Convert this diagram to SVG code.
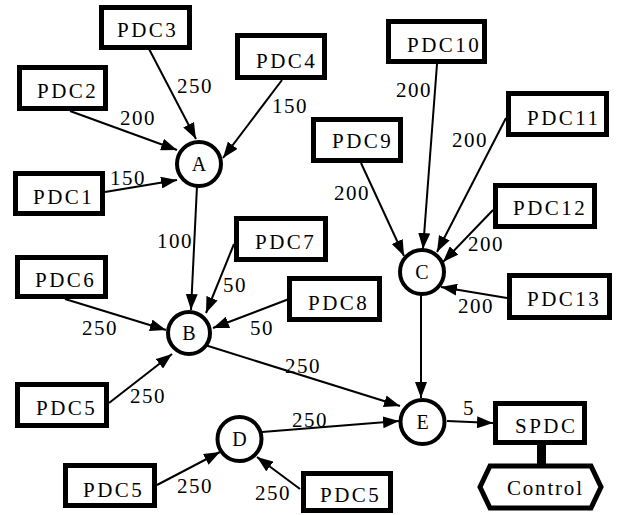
<svg xmlns="http://www.w3.org/2000/svg" width="620" height="515" viewBox="0 0 620 515" font-family="Liberation Serif, DejaVu Serif, serif">
<style>
.box{fill:#fff;stroke:#000;stroke-width:5}
.circ{fill:#fff;stroke:#000;stroke-width:4}
.t{font-size:21px;fill:#000;letter-spacing:2.5px}
.ct{font-size:20px;fill:#000;text-anchor:middle}
.n{font-size:21px;fill:#000;letter-spacing:1.5px}
.e{stroke:#000;stroke-width:2;fill:none;marker-end:url(#arr)}
</style>
<defs>
<marker id="arr" viewBox="0 0 16 12" refX="16" refY="6" markerWidth="16" markerHeight="12" markerUnits="userSpaceOnUse" orient="auto">
<path d="M0,0 L16,6 L0,12 z" fill="#000"/>
</marker>
</defs>
<rect width="620" height="515" fill="#fff"/>
<g id="connectors">
<line class="e" x1="148" y1="47" x2="196" y2="139"/>
<line class="e" x1="70" y1="111" x2="177" y2="150"/>
<line class="e" x1="282" y1="80" x2="223" y2="158"/>
<line class="e" x1="105" y1="192" x2="177" y2="180"/>
<line class="e" x1="197" y1="186" x2="191" y2="310"/>
<line class="e" x1="234" y1="244" x2="206" y2="313"/>
<line class="e" x1="289" y1="299" x2="213" y2="328"/>
<line class="e" x1="65" y1="299" x2="166" y2="330"/>
<line class="e" x1="109" y1="403" x2="172" y2="354"/>
<line class="e" x1="205" y1="345" x2="400" y2="406"/>
<line class="e" x1="262" y1="432" x2="399" y2="421"/>
<line class="e" x1="421" y1="295" x2="421" y2="398"/>
<line class="e" x1="447" y1="421" x2="493" y2="423"/>
<line class="e" x1="157" y1="485" x2="220" y2="452"/>
<line class="e" x1="300" y1="489" x2="257" y2="457"/>
<line class="e" x1="437" y1="64" x2="423" y2="249"/>
<line class="e" x1="506" y1="118" x2="437" y2="252"/>
<line class="e" x1="361" y1="163" x2="404" y2="256"/>
<line class="e" x1="493" y1="210" x2="443" y2="262"/>
<line class="e" x1="507" y1="298" x2="441" y2="287"/>
<line x1="541.5" y1="444" x2="541.5" y2="466" stroke="#000" stroke-width="9"/>
<text class="n" x="177" y="93">250</text>
<text class="n" x="120" y="125">200</text>
<text class="n" x="272" y="113">150</text>
<text class="n" x="110" y="185">150</text>
<text class="n" x="157" y="248">100</text>
<text class="n" x="223" y="292">50</text>
<text class="n" x="250" y="335">50</text>
<text class="n" x="82" y="335">250</text>
<text class="n" x="130" y="403">250</text>
<text class="n" x="285" y="373">250</text>
<text class="n" x="292" y="427">250</text>
<text class="n" x="463" y="415">5</text>
<text class="n" x="177" y="493">250</text>
<text class="n" x="255" y="500">250</text>
<text class="n" x="396" y="97">200</text>
<text class="n" x="452" y="147">200</text>
<text class="n" x="334" y="200">200</text>
<text class="n" x="468" y="251">200</text>
<text class="n" x="458" y="313">200</text>
</g>
<g id="PDC3"><rect class="box" x="101.5" y="7.5" width="88" height="40"/><text class="t" x="117" y="37">PDC3</text></g>
<g id="PDC2"><rect class="box" x="19.5" y="67.5" width="86" height="41"/><text class="t" x="37" y="98">PDC2</text></g>
<g id="PDC4"><rect class="box" x="237.5" y="35.5" width="87" height="42"/><text class="t" x="256" y="68">PDC4</text></g>
<g id="PDC1"><rect class="box" x="15.5" y="173.5" width="87" height="40"/><text class="t" x="33" y="204">PDC1</text></g>
<g id="PDC7"><rect class="box" x="236.5" y="218.5" width="89" height="41"/><text class="t" x="255" y="249">PDC7</text></g>
<g id="PDC8"><rect class="box" x="289.5" y="278.5" width="90" height="41"/><text class="t" x="308" y="310">PDC8</text></g>
<g id="PDC6"><rect class="box" x="17.5" y="257.5" width="88" height="39"/><text class="t" x="35" y="287">PDC6</text></g>
<g id="PDC5a"><rect class="box" x="17.5" y="384.5" width="89" height="41"/><text class="t" x="36" y="415">PDC5</text></g>
<g id="PDC5b"><rect class="box" x="65.5" y="465.5" width="89" height="40"/><text class="t" x="83" y="497">PDC5</text></g>
<g id="PDC5c"><rect class="box" x="303.5" y="473.5" width="87" height="37"/><text class="t" x="320" y="502">PDC5</text></g>
<g id="PDC10"><rect class="box" x="388.5" y="21.5" width="96" height="40"/><text class="t" x="407" y="52">PDC10</text></g>
<g id="PDC11"><rect class="box" x="508.5" y="93.5" width="98" height="41"/><text class="t" x="527" y="125">PDC11</text></g>
<g id="PDC9"><rect class="box" x="313.5" y="119.5" width="87" height="41"/><text class="t" x="332" y="148">PDC9</text></g>
<g id="PDC12"><rect class="box" x="495.5" y="185.5" width="99" height="41"/><text class="t" x="513" y="215">PDC12</text></g>
<g id="PDC13"><rect class="box" x="509.5" y="275.5" width="100" height="42"/><text class="t" x="527" y="306">PDC13</text></g>
<g id="SPDC"><rect class="box" x="495.5" y="403.5" width="89" height="39"/><text class="t" x="515" y="433">SPDC</text></g>
<g id="Control"><polygon class="box" points="480,487 490,466 591,466 601,487 591,508 490,508"/><text class="t" x="507" y="495" style="letter-spacing:1.8px">Control</text></g>
<g id="A"><circle class="circ" cx="199" cy="164" r="22"/><text class="ct" x="199" y="171">A</text></g>
<g id="B"><circle class="circ" cx="189" cy="333" r="21"/><text class="ct" x="189" y="340">B</text></g>
<g id="C"><circle class="circ" cx="422" cy="272" r="22"/><text class="ct" x="422" y="279">C</text></g>
<g id="D"><circle class="circ" cx="239.5" cy="439" r="22"/><text class="ct" x="239.5" y="446">D</text></g>
<g id="E"><circle class="circ" cx="422.5" cy="422" r="22"/><text class="ct" x="422.5" y="429">E</text></g>
</svg>
